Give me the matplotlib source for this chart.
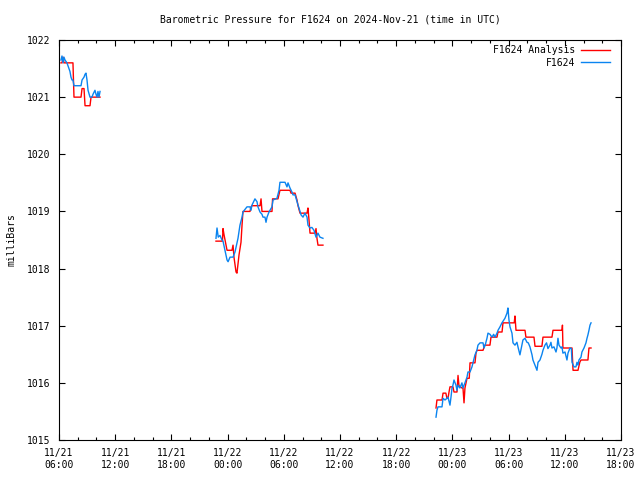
import datetime as dt
import numpy as np
import matplotlib
matplotlib.use("Agg")
import matplotlib.pyplot as plt

# horas desde 2024-11-21 00:00 UTC, presion en milibares
# tramo 1
t_obs_1 = [6.21, 6.32, 6.43, 6.53, 6.64, 6.85, 6.96, 7.17, 7.28, 7.39, 7.49, 7.60, 7.71, 7.92,
           8.03, 8.24, 8.35, 8.46, 8.67, 8.78, 8.88, 8.99, 9.10, 9.31, 9.52, 9.63, 9.84, 9.95,
           10.06, 10.16, 10.27, 10.38]
p_obs_1 = [1021.65, 1021.72, 1021.60, 1021.70, 1021.65, 1021.60, 1021.55, 1021.45, 1021.35,
           1021.30, 1021.30, 1021.20, 1021.20, 1021.20, 1021.20, 1021.20, 1021.20, 1021.30,
           1021.35, 1021.40, 1021.42, 1021.30, 1021.12, 1021.00, 1021.00, 1021.05, 1021.12,
           1021.05, 1021.00, 1021.10, 1021.00, 1021.10]
t_ana_1 = [6.21, 6.32, 6.43, 6.53, 7.49, 7.60, 8.35, 8.46, 8.67, 8.78, 9.31, 9.42, 10.38]
p_ana_1 = [1021.60, 1021.60, 1021.70, 1021.60, 1021.60, 1021.00, 1021.00, 1021.15, 1021.15,
           1020.85, 1020.85, 1021.00, 1021.00]

# tramo 2
t_obs_2 = [22.76, 22.87, 23.00, 23.19, 23.40, 23.51, 23.72, 23.94, 24.05, 24.26, 24.58, 24.79,
           25.11, 25.32, 25.54, 25.64, 26.07, 26.39, 26.50, 26.60, 26.92, 27.14, 27.24, 27.46,
           27.67, 27.78, 27.99, 28.10, 28.21, 28.42, 28.74, 28.85, 29.27, 29.49, 29.59, 30.13,
           30.34, 30.45, 30.66, 30.87, 30.98, 31.20, 31.41, 31.52, 31.62, 31.84, 32.05, 32.26,
           32.48, 32.58, 32.80, 33.00, 33.22, 33.44, 33.65, 33.86, 34.18]
p_obs_2 = [1018.53, 1018.71, 1018.55, 1018.58, 1018.50, 1018.48, 1018.32, 1018.15, 1018.12,
           1018.20, 1018.20, 1018.29, 1018.53, 1018.76, 1018.90, 1018.99, 1019.08, 1019.08,
           1019.02, 1019.11, 1019.22, 1019.17, 1019.08, 1018.99, 1018.95, 1018.90, 1018.90,
           1018.81, 1018.90, 1018.99, 1019.08, 1019.20, 1019.23, 1019.37, 1019.51, 1019.51,
           1019.43, 1019.50, 1019.41, 1019.34, 1019.29, 1019.29, 1019.17, 1019.11, 1019.06,
           1018.94, 1018.90, 1018.97, 1018.90, 1018.76, 1018.71, 1018.72, 1018.67, 1018.55,
           1018.62, 1018.55, 1018.53]
t_ana_2 = [22.76, 23.45, 23.51, 23.62, 23.94, 24.47, 24.58, 24.68, 24.90, 25.00, 25.22, 25.43,
           25.54, 25.64, 26.39, 26.50, 26.60, 27.46, 27.57, 27.67, 28.74, 28.80, 29.38, 29.59,
           30.66, 30.77, 31.20, 31.41, 31.52, 31.73, 32.48, 32.58, 32.69, 32.80, 33.33, 33.44,
           33.54, 33.65, 34.18]
p_ana_2 = [1018.48, 1018.48, 1018.70, 1018.59, 1018.32, 1018.32, 1018.41, 1018.20, 1017.94,
           1017.92, 1018.24, 1018.46, 1018.76, 1019.00, 1019.00, 1019.08, 1019.10, 1019.10,
           1019.22, 1019.00, 1019.00, 1019.22, 1019.22, 1019.37, 1019.37, 1019.32, 1019.32,
           1019.20, 1019.10, 1018.97, 1018.97, 1019.06, 1018.85, 1018.62, 1018.62, 1018.70,
           1018.53, 1018.41, 1018.41]

# tramo 3
t_obs_3 = [46.25, 46.35, 46.46, 46.89, 47.00, 47.21, 47.42, 47.53, 47.74, 47.85, 47.96, 48.06,
           48.17, 48.38, 48.49, 48.60, 48.80, 49.02, 49.13, 49.34, 49.56, 49.66, 49.88, 50.09,
           50.20, 50.41, 50.62, 50.73, 50.95, 51.27, 51.37, 51.50, 51.69, 51.80, 52.01, 52.23,
           52.40, 52.55, 52.76, 52.87, 53.08, 53.29, 53.61, 53.83, 53.93, 54.04, 54.15, 54.36,
           54.47, 54.68, 54.89, 55.00, 55.21, 55.40, 55.53, 55.75, 55.96, 56.10, 56.28, 56.50,
           56.60, 56.82, 57.03, 57.14, 57.35, 57.56, 57.67, 57.88, 58.05, 58.20, 58.42, 58.52,
           58.63, 58.84, 59.06, 59.16, 59.27, 59.38, 59.59, 59.70, 59.80, 60.02, 60.23, 60.34,
           60.55, 60.70, 60.77, 60.98, 61.19, 61.30, 61.41, 61.51, 61.73, 61.83, 62.05, 62.26,
           62.37, 62.47, 62.58, 62.69, 62.80]
p_obs_3 = [1015.40, 1015.52, 1015.58, 1015.58, 1015.73, 1015.70, 1015.73, 1015.75, 1015.61,
           1015.75, 1015.91, 1015.96, 1016.05, 1015.96, 1015.87, 1015.96, 1015.91, 1016.00,
           1015.91, 1016.00, 1016.10, 1016.19, 1016.19, 1016.28, 1016.35, 1016.49, 1016.57,
           1016.66, 1016.70, 1016.70, 1016.61, 1016.66, 1016.78, 1016.87, 1016.85, 1016.80,
           1016.85, 1016.80, 1016.87, 1016.92, 1016.98, 1017.05, 1017.13, 1017.22, 1017.31,
           1017.10, 1016.98, 1016.87, 1016.70, 1016.66, 1016.71, 1016.63, 1016.49, 1016.65,
           1016.75, 1016.78, 1016.71, 1016.70, 1016.63, 1016.49, 1016.40, 1016.31, 1016.22,
           1016.36, 1016.40, 1016.50, 1016.57, 1016.66, 1016.70, 1016.60, 1016.66, 1016.71,
           1016.61, 1016.63, 1016.54, 1016.61, 1016.78, 1016.66, 1016.61, 1016.63, 1016.52,
           1016.54, 1016.40, 1016.52, 1016.61, 1016.60, 1016.36, 1016.28, 1016.28, 1016.36,
           1016.31, 1016.40, 1016.45, 1016.54, 1016.61, 1016.70, 1016.78, 1016.84, 1016.92,
           1017.01, 1017.05]
t_ana_3 = [46.25, 46.35, 46.89, 47.00, 47.30, 47.42, 47.53, 47.64, 47.74, 48.06, 48.17, 48.49,
           48.60, 48.70, 49.02, 49.13, 49.24, 49.34, 49.56, 49.80, 49.88, 50.41, 50.52, 50.62,
           51.27, 51.45, 52.01, 52.12, 52.76, 52.87, 53.30, 53.40, 54.60, 54.68, 54.79, 55.75,
           55.85, 56.71, 56.82, 57.56, 57.67, 58.63, 58.74, 59.70, 59.75, 59.80, 60.77, 60.88,
           61.41, 61.60, 61.73, 62.47, 62.58, 62.80]
p_ana_3 = [1015.56, 1015.70, 1015.70, 1015.82, 1015.82, 1015.73, 1015.73, 1015.84, 1015.93,
           1015.93, 1015.84, 1015.84, 1016.13, 1015.95, 1015.91, 1015.91, 1015.65, 1015.91,
           1016.08, 1016.08, 1016.35, 1016.35, 1016.52, 1016.57, 1016.57, 1016.66, 1016.66,
           1016.80, 1016.80, 1016.89, 1016.89, 1017.05, 1017.05, 1017.17, 1016.92, 1016.92,
           1016.80, 1016.80, 1016.64, 1016.64, 1016.80, 1016.80, 1016.92, 1016.92, 1017.01,
           1016.61, 1016.61, 1016.22, 1016.22, 1016.36, 1016.40, 1016.40, 1016.61, 1016.61]

inicio = dt.datetime(2024, 11, 21)
x_ticks = [6, 12, 18, 24, 30, 36, 42, 48, 54, 60, 66]
y_ticks = [1015, 1016, 1017, 1018, 1019, 1020, 1021, 1022]

rojo = "#ff0000"
azul = "#0a84f0"

plt.rcParams["font.family"] = ["DejaVu Sans Mono"]
plt.rcParams["font.size"] = 7

fig = plt.figure(figsize=(6.4, 4.8), dpi=100)
ax = fig.add_axes([59/640, 40/480, 562/640, 400/480])

# un hueco entre tramos se marca con NaN para que no se unan las lineas
def unir(*tramos):
    salida = []
    for i, tr in enumerate(tramos):
        if i > 0:
            salida.append(np.nan)
        salida.extend(tr)
    return np.array(salida)

t_ana = unir(t_ana_1, t_ana_2, t_ana_3)
p_ana = unir(p_ana_1, p_ana_2, p_ana_3)
t_obs = unir(t_obs_1, t_obs_2, t_obs_3)
p_obs = unir(p_obs_1, p_obs_2, p_obs_3)

ax.plot(t_ana, p_ana, color=rojo, lw=1.0, label="F1624 Analysis")
ax.plot(t_obs, p_obs, color=azul, lw=1.0, label="F1624")

ax.set_xlim(6, 66)
ax.set_ylim(1015, 1022)

etiquetas = [(inicio + dt.timedelta(hours=h)).strftime("%m/%d\n%H:%M") for h in x_ticks]
ax.set_xticks(x_ticks)
ax.set_xticklabels(etiquetas)
ax.set_xticks(np.arange(6, 67, 2), minor=True)
ax.set_yticks(y_ticks)
ax.set_yticklabels([str(v) for v in y_ticks])

ax.tick_params(which="both", direction="in", top=True, right=True, width=0.8)
ax.tick_params(which="major", length=4, pad=6)
ax.tick_params(which="minor", length=2)
ax.tick_params(axis="x", which="minor", top=True, bottom=True)
for s in ax.spines.values():
    s.set_linewidth(0.8)

ax.set_ylabel("milliBars", labelpad=8)
fig.text(330/640, 1 - 20/480, "Barometric Pressure for F1624 on 2024-Nov-21 (time in UTC)",
         ha="center", va="center")

ley = ax.legend(loc="upper right", bbox_to_anchor=(0.987, 0.997), borderaxespad=0,
                frameon=False, markerfirst=False, handlelength=3.0,
                handletextpad=0.6, labelspacing=0.25)
for txt in ley.get_texts():
    txt.set_ha("right")

fig.savefig("out.png", dpi=100)
